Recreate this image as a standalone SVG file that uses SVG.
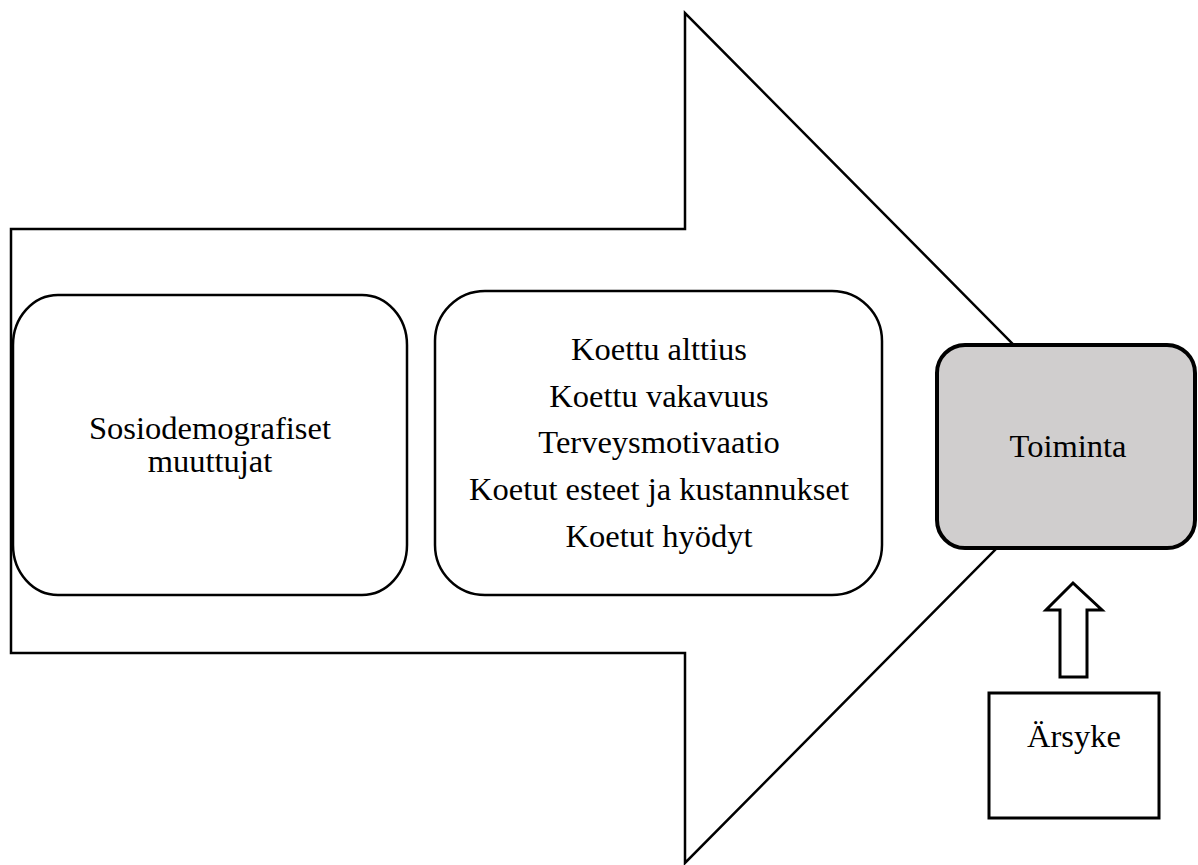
<svg xmlns="http://www.w3.org/2000/svg" width="1198" height="865" viewBox="0 0 1198 865">
  <style>
    .t { font-family: "Liberation Serif", "Times New Roman", "DejaVu Serif", serif; font-size: 32.5px; fill: #000; text-anchor: middle; }
    .box { fill: #fff; stroke: #000; stroke-width: 2.5; }
  </style>
  <rect x="0" y="0" width="1198" height="865" fill="#fff"/>
  <g id="big-arrow">
    <polygon points="11,229 685,229 685,13 1106,438 685,863 685,653 11,653" fill="#fff" stroke="#000" stroke-width="2.5" stroke-linejoin="miter"/>
  </g>
  <g id="node-sosiodemografiset">
    <rect class="box" x="13" y="295" width="394" height="300" rx="45" ry="50"/>
    <text class="t" x="210" y="439">Sosiodemografiset</text>
    <text class="t" x="210" y="472">muuttujat</text>
  </g>
  <g id="node-koettu">
    <rect class="box" x="435" y="291" width="447" height="304" rx="50" ry="50"/>
    <text class="t" x="659" y="360">Koettu alttius</text>
    <text class="t" x="659" y="407">Koettu vakavuus</text>
    <text class="t" x="659" y="453">Terveysmotivaatio</text>
    <text class="t" x="659" y="500">Koetut esteet ja kustannukset</text>
    <text class="t" x="659" y="547">Koetut hyödyt</text>
  </g>
  <g id="node-toiminta">
    <rect x="937" y="345" width="258" height="203" rx="28" ry="28" fill="#d0cece" stroke="#000" stroke-width="4"/>
    <text class="t" x="1068" y="457">Toiminta</text>
  </g>
  <g id="node-arsyke">
    <rect x="989" y="693" width="170" height="125" fill="#fff" stroke="#000" stroke-width="3"/>
    <text class="t" x="1074" y="747">Ärsyke</text>
  </g>
  <g id="connectors">
    <polygon points="1073,583 1102,610 1087,610 1087,677 1060,677 1060,610 1046,610" fill="#fff" stroke="#000" stroke-width="3"/>
  </g>
</svg>
